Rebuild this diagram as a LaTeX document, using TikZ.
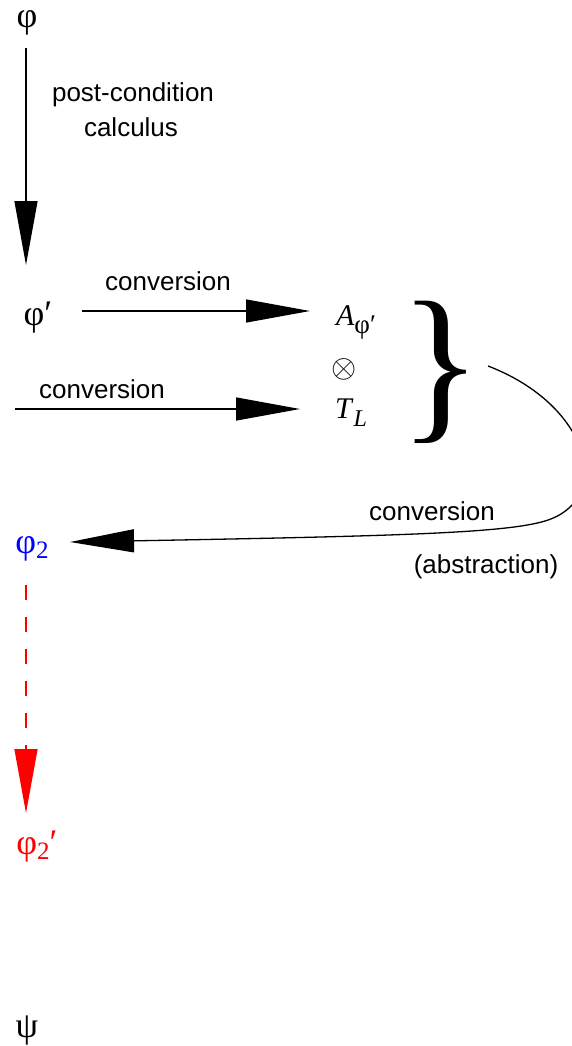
\documentclass[tikz,border=0pt]{standalone}
\usepackage{fontspec}
\setmainfont{Liberation Serif}
\newfontfamily\lsans{Liberation Sans}
\usetikzlibrary{arrows.meta}
\begin{document}
\begin{tikzpicture}[x=1pt,y=-1pt,
  lbl/.style={font=\lsans\fontsize{26}{30}\selectfont, inner sep=0pt},
  gr/.style={font=\fontsize{36}{40}\selectfont, inner sep=0pt},
  it/.style={font=\fontsize{30}{34}\selectfont, inner sep=0pt},
  bigarrow/.style={-{Triangle[length=64pt,width=23pt]}, line width=1.3pt}]
\useasboundingbox (0,0) rectangle (572,1046);
% nodes
\node[gr, anchor=base] (phi) at (27,28) {φ};
\node[gr] (phip) at (38,318) {φ′};
\node[it] (A) at (356,322) {\textit{A}\raisebox{-8pt}{\fontsize{27}{27}\selectfont φ′}};
\node[inner sep=0pt, font=\fontsize{25}{25}\selectfont] (ot) at (344,369) {\scalebox{1.3}{$\otimes$}};
\node[it] (T) at (351,413) {\textit{T}\raisebox{-8pt}{\fontsize{24}{24}\selectfont\textit{L}}};
\node[inner sep=0pt, font=\fontsize{172}{172}\selectfont] (br) at (441,372) {\}};
\node[gr, text=blue] (phitwo) at (32,549) {φ\raisebox{-5pt}{\fontsize{25}{25}\selectfont 2}};
\node[gr, text=red] (phitwop) at (37,847) {φ\raisebox{-5pt}{\fontsize{25}{25}\selectfont 2}′};
\node[gr] (psi) at (27,1030) {ψ};
% labels
\node[lbl] (l1) at (133,95) {post-condition};
\node[lbl] (l2) at (131,127) {calculus};
\node[lbl] (l3) at (168,281) {conversion};
\node[lbl] (l4) at (102,389) {conversion};
\node[lbl] (l5) at (432,511) {conversion};
\node[lbl] (l6) at (486,567) {(abstraction)};
% coordinates
\coordinate (s1) at (26,48);
\coordinate (e1) at (26,265);
\coordinate (s2) at (82,311);
\coordinate (e2) at (310,311);
\coordinate (s3) at (15,409);
\coordinate (e3) at (300,409);
\coordinate (s4) at (488,366);
\coordinate (e4) at (70,542);
\coordinate (s5) at (26,585);
\coordinate (e5) at (26,813);
% connectors
\draw[bigarrow] (s1) -- (e1);
\draw[bigarrow] (s2) -- (e2);
\draw[bigarrow] (s3) -- (e3);
\draw[bigarrow] (s4) .. controls (590,405) and (615,500) .. (545,521) .. controls (505,533) and (400,536) .. (e4);
\draw[bigarrow, red, dash pattern=on 15pt off 17pt] (s5) -- (e5);
\end{tikzpicture}
\end{document}
